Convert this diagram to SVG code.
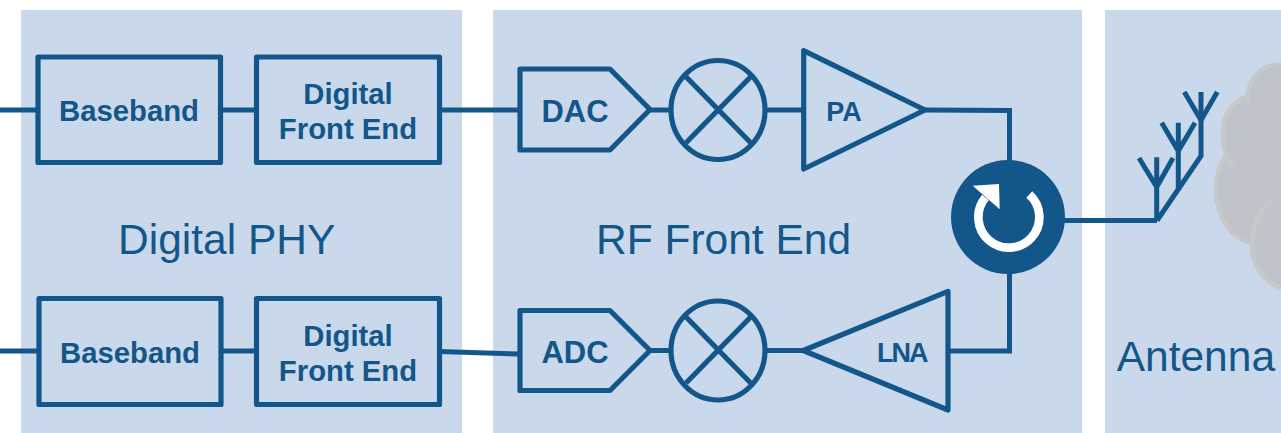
<svg xmlns="http://www.w3.org/2000/svg" width="1281" height="433" viewBox="0 0 1281 433">
<style>
.panel{fill:#cad8ec}
.sh{fill:none;stroke:#13578a;stroke-width:5.2;stroke-linejoin:round}
.wire{fill:none;stroke:#13578a;stroke-width:5;stroke-linejoin:miter}
.ant{fill:none;stroke:#13578a;stroke-width:5;stroke-linejoin:miter}
.cl{fill:none;stroke:#c6c8ca;stroke-width:4.5;stroke-linecap:butt}
text{font-family:"Liberation Sans",Arial,sans-serif;fill:#13578a}
.b{font-weight:bold;font-size:29.300px;text-anchor:middle}
.conv{font-weight:bold;font-size:31px;text-anchor:middle}
.t{font-size:42.500px}
</style>
<rect width="1281" height="433" fill="#ffffff"/>
<g id="panels">
<rect class="panel" x="21" y="10" width="441" height="423"/>
<rect class="panel" x="493" y="10" width="589" height="423"/>
<rect class="panel" x="1105" y="10" width="176" height="423"/>
</g>
<g id="cloud">
<path d="M1281 65C1262 63 1248 78 1246.500 98C1232 102 1222 116 1222.500 135C1222.500 143 1224 150 1226 156C1219 166 1216 177 1216 188C1216 218 1232 240 1252.700 243.500C1252 245 1252 248 1252 250C1252 266 1264 282 1281 288Z" fill="#c0c4ca"/>
<path class="cl" d="M1281 65C1262 63 1248 78 1246.500 102"/>
<path class="cl" d="M1246.500 97C1232 102 1222 116 1222.700 135C1223 150 1227 160 1233.700 170"/>
<path class="cl" d="M1226 155C1219 166 1216 177 1216 188C1216 218 1232 240 1254 243.500"/>
<path class="cl" d="M1272.700 200C1260 208 1252 226 1252 247C1252 266 1264 282 1281 288"/>
</g>
<g id="connectors">
<path class="wire" d="M0 110H38"/>
<path class="wire" d="M220 110H256"/>
<path class="wire" d="M439 110H520"/>
<path class="wire" d="M650 110H672"/>
<path class="wire" d="M765 110H804"/>
<path class="wire" d="M925 110L1009.500 110.500V165"/>
<path class="wire" d="M0 351H39"/>
<path class="wire" d="M221 351H256"/>
<path class="wire" d="M439 351.500L518 354"/>
<path class="wire" d="M650 350.500H672"/>
<path class="wire" d="M765 350.500H804"/>
<path class="wire" d="M948 351H1009.500V270"/>
<path class="wire" d="M1060 220.500H1157"/>
</g>
<g id="baseband-tx"><rect class="sh" x="38" y="57" width="182.500" height="105.500"/><text class="b" x="129" y="120.700">Baseband</text></g>
<g id="dfe-tx"><rect class="sh" x="256.500" y="57" width="183" height="105.500"/><text class="b" x="348" y="104">Digital</text><text class="b" x="348" y="138.700">Front End</text></g>
<g id="dac"><path class="sh" d="M520 69H610L650 109.500L610 150H520Z"/><text class="conv" x="575" y="121.700">DAC</text></g>
<g id="mixer-tx"><ellipse class="sh" cx="718" cy="110" rx="47" ry="49.500"/><path class="sh" d="M686 76.700L750.700 142.700M750.700 76.700L686 142.700"/></g>
<g id="pa"><path class="sh" d="M803.700 50.700L925 110L803.700 169Z"/><text x="844" y="120.700" font-size="27" font-weight="bold" text-anchor="middle">PA</text></g>
<g id="baseband-rx"><rect class="sh" x="39" y="298.500" width="182" height="106"/><text class="b" x="130" y="362.700">Baseband</text></g>
<g id="dfe-rx"><rect class="sh" x="256.500" y="298.500" width="183" height="106"/><text class="b" x="348" y="346">Digital</text><text class="b" x="348" y="380.700">Front End</text></g>
<g id="adc"><path class="sh" d="M520 310.500H610L650 350.500L610 390.500H520Z"/><text class="conv" x="575" y="362.700">ADC</text></g>
<g id="mixer-rx"><ellipse class="sh" cx="718" cy="350.500" rx="47" ry="49.500"/><path class="sh" d="M686 317L750.700 383M750.700 317L686 383"/></g>
<g id="lna"><path class="sh" d="M948 291.300L803.300 350.500L948 410Z"/><text x="877" y="361.700" font-size="27px" font-weight="bold" letter-spacing="-2">LNA</text></g>
<g id="circulator">
<circle cx="1008" cy="217" r="57" fill="#13578a"/>
<path d="M1029.300 194.500A30.500 30.500 0 1 1 985.500 197.500" fill="none" stroke="#ffffff" stroke-width="8.700"/>
<path d="M972.700 185.700L999 184L999.700 209.300Z" fill="#ffffff"/>
</g>
<g id="antenna">
<path class="ant" d="M1157 220.500L1201 156V92"/>
<path class="ant" d="M1156.700 220.500V157.300M1139 158L1156.700 187L1173 158"/>
<path class="ant" d="M1178.300 190V122.700M1161.700 122.700L1178.300 151L1195 122.700"/>
<path class="ant" d="M1184.300 92L1201 120L1217.300 92"/>
</g>
<g id="labels">
<text class="t" x="118" y="254">Digital PHY</text>
<text class="t" x="596" y="254">RF Front End</text>
<text class="t" x="1116.700" y="370.700">Antenna</text>
</g>
</svg>
